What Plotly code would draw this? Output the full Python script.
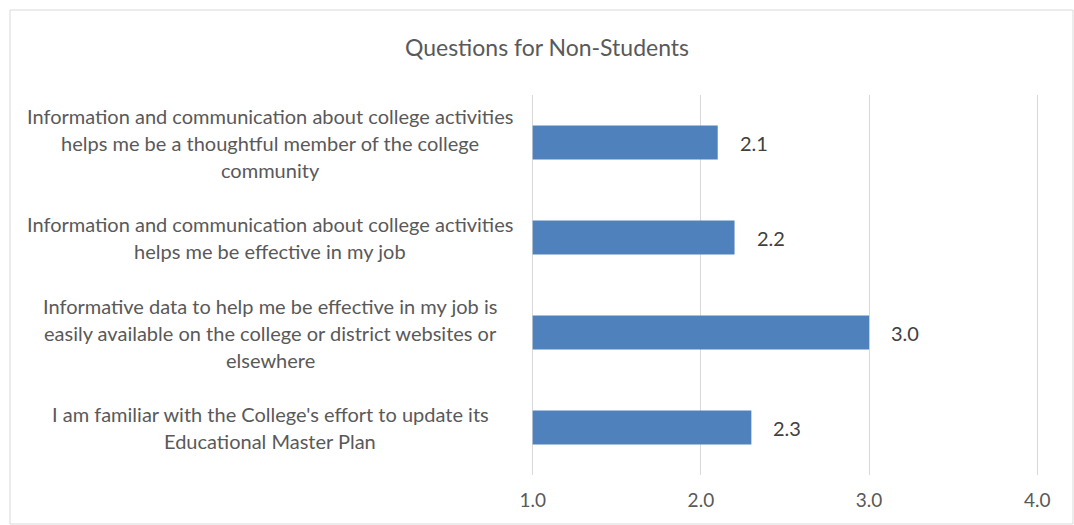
import plotly.graph_objects as go

# Survey items (top to bottom) and their mean ratings
questions = [
    "Information and communication about college activities<br>helps me be a thoughtful member of the college<br>community",
    "Information and communication about college activities<br>helps me be effective in my job",
    "Informative data to help me be effective in my job is<br>easily available on the college or district websites or<br>elsewhere",
    "I am familiar with the College's effort to update its<br>Educational Master Plan",
]
scores = [2.1, 2.2, 3.0, 2.3]
x_ticks = [1.0, 2.0, 3.0, 4.0]
x_tick_labels = ["1.0", "2.0", "3.0", "4.0"]
scale_min = 1.0  # bars grow from the bottom of the rating scale

FONT = "Lato"
TEXT = "#595959"
BAR = "#4f81bd"
W, H = 1074, 525
ML, MR, MT, MB = 531, 35, 95, 50

fig = go.Figure(
    go.Bar(
        y=questions,
        x=[s - scale_min for s in scores],
        base=[scale_min] * len(scores),
        orientation="h",
        marker=dict(color=BAR, line=dict(width=0)),
        customdata=scores,
        hovertemplate="%{y}: %{customdata:.1f}<extra></extra>",
    )
)

annotations = []
# value labels to the right of each bar
for q, v in zip(questions, scores):
    annotations.append(dict(
        x=v, y=q, xref="x", yref="y", text=f"{v:.1f}",
        showarrow=False, xanchor="left", yanchor="middle", xshift=20,
        font=dict(family=FONT, size=20, color="#404040"),
    ))

# centred multi-line category labels
pw = W - ML - MR
ph = H - MT - MB
label_cx = (270 - ML) / pw
line_step = 27
for q in questions:
    lines = q.split("<br>")
    n = len(lines)
    for i, line in enumerate(lines):
        annotations.append(dict(
            x=label_cx, y=q, xref="paper", yref="y", text=line,
            showarrow=False, xanchor="center", yanchor="middle",
            yshift=((n - 1) / 2 - i) * line_step,
            font=dict(family=FONT, size=20, color=TEXT),
        ))

fig.update_layout(
    width=W, height=H,
    margin=dict(l=ML, r=MR, t=MT, b=MB),
    paper_bgcolor="white", plot_bgcolor="white",
    bargap=0.64,
    showlegend=False,
    title=dict(
        text="Questions for Non-Students",
        x=547 / W, xanchor="center", xref="container",
        y=1 - 48 / H, yanchor="middle", yref="container",
        font=dict(family=FONT, size=23, color=TEXT),
    ),
    xaxis=dict(
        range=[0.99, 4.01], tickvals=x_ticks, ticktext=x_tick_labels,
        showgrid=True, gridcolor="#d9d9d9", gridwidth=1,
        zeroline=False, showline=False,
        ticks="outside", ticklen=8, tickcolor="rgba(0,0,0,0)",
        tickfont=dict(family=FONT, size=19, color=TEXT),
        fixedrange=True,
    ),
    yaxis=dict(
        autorange="reversed", showticklabels=False, showgrid=False,
        zeroline=False, showline=False, fixedrange=True,
    ),
    annotations=annotations,
    shapes=[dict(
        type="rect", xref="paper", yref="paper",
        x0=(10 - ML) / pw, x1=(1073 - ML) / pw,
        y0=1 + (MT - 524) / ph, y1=1 + (MT - 10) / ph,
        line=dict(color="#d9d9d9", width=1), fillcolor="rgba(0,0,0,0)",
        layer="below",
    )],
)

fig.write_html("out.html", config={"displayModeBar": False})
